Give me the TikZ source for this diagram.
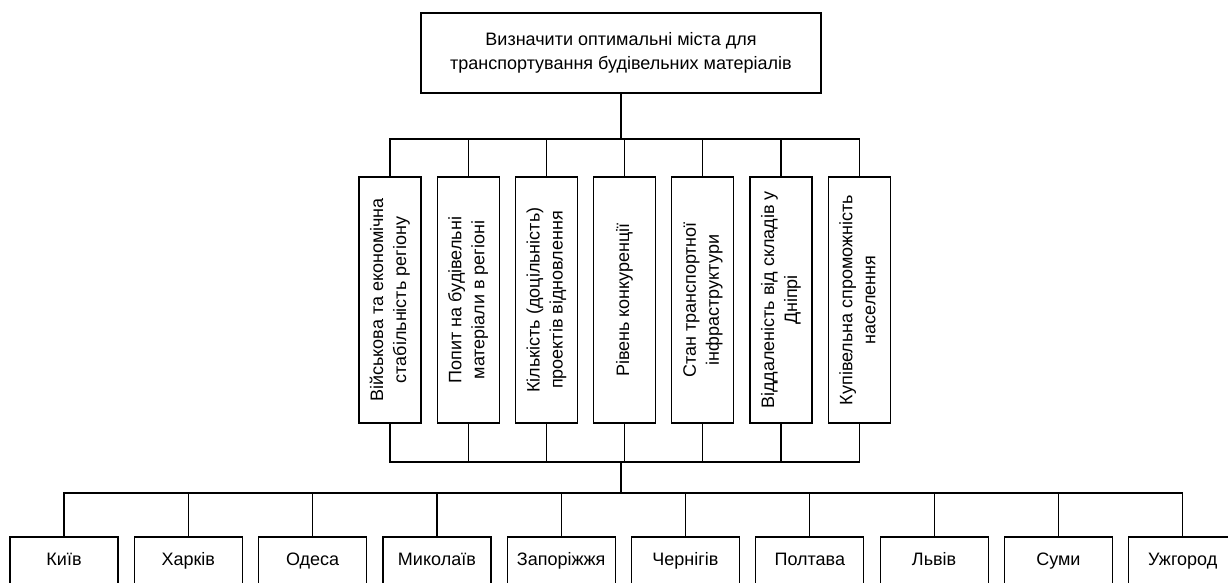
\documentclass[tikz,border=0pt]{standalone}
\usepackage{fontspec}
\setmainfont{Liberation Sans}
\usetikzlibrary{positioning}

\newcommand{\vlines}[1]{\rotatebox{90}{\begin{tabular}{@{}c@{}}#1\end{tabular}}}

\begin{document}
\begin{tikzpicture}[x=1pt,y=1pt]
        \tikzstyle{every path}=[line width=1.2pt]
        \tikzstyle{goalbox} = [draw, align=center, minimum width=400pt, minimum height=80pt, inner sep=0pt, font=\fontsize{18}{24}\selectfont]
        \tikzstyle{critbox} = [draw, minimum width=62pt, minimum height=246pt, inner sep=0pt, font=\fontsize{18}{23}\selectfont]
        \tikzstyle{townbox} = [draw, minimum width=108pt, minimum height=48pt, inner sep=0pt, text height=13pt, text depth=4pt, font=\fontsize{18}{22}\selectfont]
        \useasboundingbox (0,0) rectangle (1228,-583);
        % goal
        \node[goalbox](goal) at (621,-53){Визначити оптимальні міста для\\транспортування будівельних матеріалів};
        % criteria
        \node[critbox](crit1) at (390,-300){\vlines{Військова та економічна\\стабільність регіону}};
        \node[critbox](crit2)[right=15pt of crit1]{\vlines{Попит на будівельні\\матеріали в регіоні}};
        \node[critbox](crit3)[right=15pt of crit2]{\vlines{Кількість (доцільність)\\проектів відновлення}};
        \node[critbox](crit4)[right=15pt of crit3]{\vlines{Рівень конкуренції}};
        \node[critbox](crit5)[right=15pt of crit4]{\vlines{Стан транспортної\\інфраструктури}};
        \node[critbox](crit6)[right=15pt of crit5]{\vlines{Віддаленість від складів у\\Дніпрі}};
        \node[critbox](crit7)[right=15pt of crit6]{\vlines{Купівельна спроможність\\населення}};
        % towns
        \node[townbox](town1) at (64,-561){Київ};
        \node[townbox](town2)[right=15.1pt of town1]{Харків};
        \node[townbox](town3)[right=15.1pt of town2]{Одеса};
        \node[townbox](town4)[right=15.1pt of town3]{Миколаїв};
        \node[townbox](town5)[right=15.1pt of town4]{Запоріжжя};
        \node[townbox](town6)[right=15.1pt of town5]{Чернігів};
        \node[townbox](town7)[right=15.1pt of town6]{Полтава};
        \node[townbox](town8)[right=15.1pt of town7]{Львів};
        \node[townbox](town9)[right=15.1pt of town8]{Суми};
        \node[townbox](town10)[right=15.1pt of town9]{Ужгород};
        % buses
        \coordinate (topbus) at (621,-139);
        \coordinate (lowbus) at (621,-462);
        \coordinate (townbus) at (621,-493);
        \draw (goal.south) -- (topbus);
        \foreach \i in {1,...,7} \draw (topbus) -| (crit\i.north);
        \foreach \i in {1,...,7} \draw (crit\i.south) |- (lowbus);
        \draw (lowbus) -- (townbus);
        \foreach \i in {1,...,10} \draw (townbus) -| (town\i.north);
    \end{tikzpicture}
\end{document}
